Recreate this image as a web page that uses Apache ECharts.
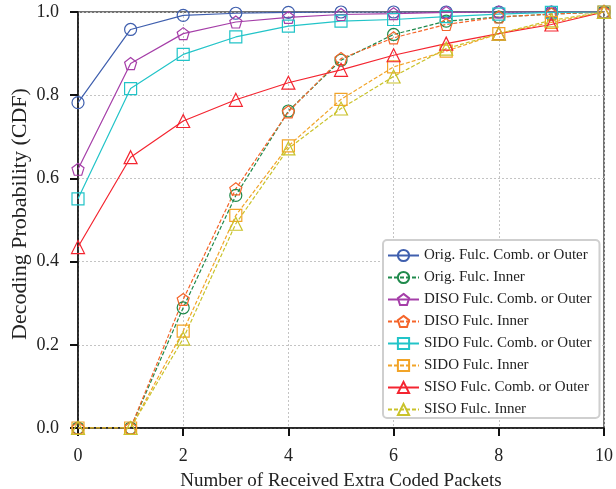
<!DOCTYPE html>
<html>
<head>
<meta charset="utf-8">
<script src="https://cdn.jsdelivr.net/npm/echarts@6/dist/echarts.min.js"></script>
<style>
  html, body { margin: 0; padding: 0; background: #fff; }
  #chart { width: 616px; height: 489px; }
</style>
</head>
<body>
<div id="chart"></div>
<script>
// Number of extra coded packets received
const packets = [0, 1, 2, 3, 4, 5, 6, 7, 8, 9, 10];

// Decoding probability (CDF) per scheme
const origComb  = [0.782, 0.958, 0.992, 0.997, 0.999, 1.000, 1.000, 1.000, 1.000, 1.000, 1.000];
const origInner = [0.000, 0.000, 0.289, 0.559, 0.762, 0.884, 0.946, 0.978, 0.988, 0.995, 1.000];
const disoComb  = [0.622, 0.876, 0.948, 0.976, 0.987, 0.994, 0.996, 0.999, 1.000, 1.000, 1.000];
const disoInner = [0.000, 0.000, 0.309, 0.575, 0.760, 0.888, 0.938, 0.970, 0.988, 0.995, 1.000];
const sidoComb  = [0.551, 0.816, 0.898, 0.940, 0.966, 0.978, 0.982, 0.989, 0.995, 0.999, 1.000];
const sidoInner = [0.000, 0.000, 0.233, 0.511, 0.678, 0.790, 0.868, 0.906, 0.948, 0.975, 1.000];
const sisoComb  = [0.435, 0.651, 0.738, 0.789, 0.830, 0.861, 0.896, 0.924, 0.948, 0.970, 1.000];
const sisoInner = [0.000, 0.000, 0.215, 0.491, 0.672, 0.768, 0.845, 0.912, 0.948, 0.980, 1.000];

const seriesNames = [
  'Orig. Fulc. Comb. or Outer',
  'Orig. Fulc. Inner',
  'DISO Fulc. Comb. or Outer',
  'DISO Fulc. Inner',
  'SIDO Fulc. Comb. or Outer',
  'SIDO Fulc. Inner',
  'SISO Fulc. Comb. or Outer',
  'SISO Fulc. Inner'
];

const xTicks = [0, 2, 4, 6, 8, 10];
const yTicks = [0.0, 0.2, 0.4, 0.6, 0.8, 1.0];

const pentagon = 'path://M0,-10 L9.51,-3.09 L5.88,8.09 L-5.88,8.09 L-9.51,-3.09 Z';
const FONT = '"Liberation Serif", "DejaVu Serif", serif';

const styles = [
  { data: origComb,  color: '#3f5fae', symbol: 'circle',   dashed: false, size: 12 },
  { data: origInner, color: '#1f8a4c', symbol: 'circle',   dashed: true,  size: 12 },
  { data: disoComb,  color: '#a53ea8', symbol: pentagon,   dashed: false, size: 12 },
  { data: disoInner, color: '#f5652a', symbol: pentagon,   dashed: true,  size: 12 },
  { data: sidoComb,  color: '#22c4c8', symbol: 'rect',     dashed: false, size: 12 },
  { data: sidoInner, color: '#f2a428', symbol: 'rect',     dashed: true,  size: 12 },
  { data: sisoComb,  color: '#f42530', symbol: 'triangle', dashed: false, size: 13 },
  { data: sisoInner, color: '#c9c22a', symbol: 'triangle', dashed: true,  size: 13 }
];

const series = styles.map((s, i) => ({
  name: seriesNames[i],
  type: 'line',
  data: packets.map((x, k) => [x, s.data[k]]),
  color: s.color,
  symbol: s.symbol,
  symbolSize: s.size,
  showAllSymbol: true,
  clip: true,
  lineStyle: { color: s.color, width: 1.2, type: s.dashed ? [4, 2] : 'solid' },
  itemStyle: { color: 'rgba(255,255,255,0)', borderColor: s.color, borderWidth: 1.2 },
  emphasis: { disabled: true },
  animation: false
}));

const chart = echarts.init(document.getElementById('chart'), null, { renderer: 'canvas' });
chart.setOption({
  animation: false,
  backgroundColor: '#fff',
  grid: {
    left: 78, right: 12, top: 12, bottom: 61,
    containLabel: false,
    outerBoundsMode: 'none',
    show: true, borderColor: '#444', borderWidth: 1.5, backgroundColor: 'transparent'
  },
  xAxis: {
    type: 'value',
    min: xTicks[0], max: xTicks[xTicks.length - 1], interval: 2,
    name: 'Number of Received Extra Coded Packets',
    nameLocation: 'middle', nameGap: 44, nameMoveOverlap: false,
    nameTextStyle: { fontFamily: FONT, fontSize: 19, color: '#222' },
    axisLine: { show: true, onZero: false, lineStyle: { color: '#111', width: 1.5 } },
    axisTick: { show: true, inside: false, length: 8, lineStyle: { color: '#111', width: 2 } },
    axisLabel: { fontFamily: FONT, fontSize: 18, color: '#222', margin: 19 },
    splitLine: { show: true, lineStyle: { color: '#c4c4c4', width: 1, type: [2, 2] } }
  },
  yAxis: {
    type: 'value',
    min: yTicks[0], max: yTicks[yTicks.length - 1], interval: 0.2,
    name: 'Decoding Probability (CDF)',
    nameLocation: 'middle', nameGap: 47, nameRotate: 90, nameMoveOverlap: false,
    nameTextStyle: { fontFamily: FONT, fontSize: 22, color: '#222', padding: [0, 0, 0, 12] },
    axisLine: { show: true, onZero: false, lineStyle: { color: '#111', width: 1.5 } },
    axisTick: { show: true, inside: false, length: 8, lineStyle: { color: '#111', width: 2 } },
    axisLabel: { fontFamily: FONT, fontSize: 18, color: '#222', margin: 19,
                 formatter: v => v.toFixed(1) },
    splitLine: { show: true, lineStyle: { color: '#c4c4c4', width: 1, type: [2, 2] } }
  },
  legend: {
    orient: 'vertical',
    left: 383, top: 240,
    data: seriesNames,
    itemWidth: 31, itemHeight: 14, itemGap: 7,
    padding: [8, 8, 1, 4],
    backgroundColor: '#fff',
    borderColor: '#cfcfcf', borderWidth: 2, borderRadius: 4,
    textStyle: { fontFamily: FONT, fontSize: 15, color: '#222' },
    selectedMode: false
  },
  series: series
});
</script>
</body>
</html>
